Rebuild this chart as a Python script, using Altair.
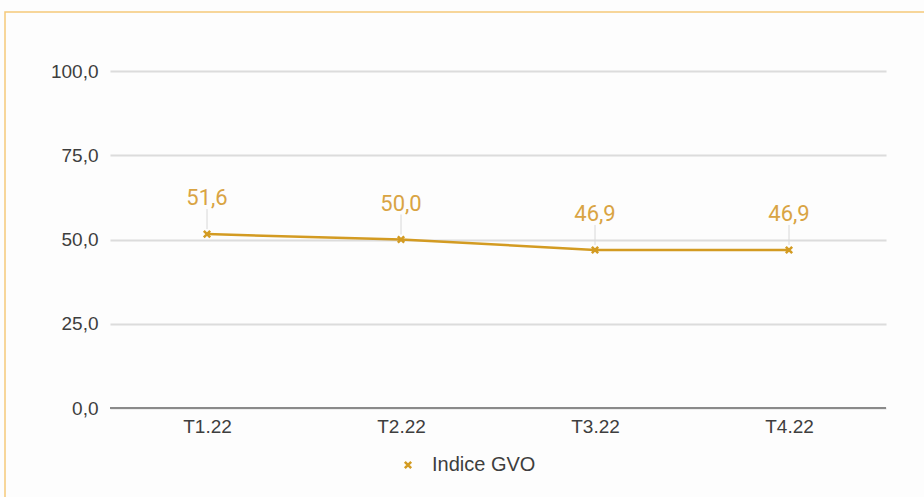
import altair as alt
import pandas as pd

categories = ["T1.22", "T2.22", "T3.22", "T4.22"]
values = [51.6, 50.0, 46.9, 46.9]
labels = ["51,6", "50,0", "46,9", "46,9"]
series = "Indice GVO"

df = pd.DataFrame({"cat": categories, "val": values, "lab": labels, "serie": [series] * 4})

GOLD = "#D39B22"
LABEL_GOLD = "#D9A443"
XPATH = "M-1,-1L1,1M1,-1L-1,1"

x = alt.X("cat:N", sort=categories, title=None,
          scale=alt.Scale(type="point", padding=0.5),
          axis=alt.Axis(labelAngle=0, ticks=False, domain=False, labelFont="Liberation Sans",
                        labelFontSize=19, labelColor="#3E3E3E", labelPadding=9))
y = alt.Y("val:Q", title=None,
          scale=alt.Scale(domain=[0, 100]),
          axis=alt.Axis(values=[0, 25, 50, 75, 100], labelExpr="replace(format(datum.value, '.1f'), '.', ',')",
                        ticks=False, domain=False, grid=True, gridColor="#DCDCDC", gridWidth=2,
                        labelFont="Liberation Sans", labelFontSize=19, labelColor="#3E3E3E",
                        labelPadding=12))

base = alt.Chart(df)

border = base.mark_rect(fill=None, stroke="#F5C97A", strokeWidth=1.5, clip=False).encode(
    x=alt.value(-105), x2=alt.value(900), y=alt.value(-59), y2=alt.value(500)
).transform_filter("datum.cat == 'T1.22'")

zero = base.mark_rule(color="#8A8A8A", strokeWidth=2).encode(
    x=alt.value(0), x2=alt.value(776), y=alt.datum(0)
).transform_filter("datum.cat == 'T1.22'")

line = base.mark_line(color=GOLD, strokeWidth=2.5).encode(x=x, y=y)

points = base.mark_point(shape=XPATH, size=40, filled=False, strokeWidth=2.5, opacity=1).encode(
    x=x, y=y,
    color=alt.Color("serie:N", scale=alt.Scale(range=[GOLD]),
                    legend=alt.Legend(title=None, orient="none", legendX=288, legendY=384,
                                      symbolType=XPATH, symbolSize=40, symbolStrokeWidth=2.5,
                                      symbolFillColor="transparent",
                                      labelFont="Liberation Sans", labelFontSize=20,
                                      labelColor="#3E3E3E", labelOffset=14))
)

leaders = base.mark_rule(color="#D8D8D8", strokeWidth=1, yOffset=-25, y2Offset=-5).encode(
    x=x, y=y, y2="val:Q"
)

texts = base.mark_text(color=LABEL_GOLD, fontSize=22, font="Roboto", dy=-36, baseline="middle").encode(
    x=x, y=y, text="lab:N"
)

chart = alt.layer(border, zero, line, leaders, points, texts).properties(
    width=776, height=337,
    autosize=alt.AutoSizeParams(type="none"),
    padding={"left": 110, "top": 71, "right": 38, "bottom": 89},
    background="#FDFDFD",
).configure_view(stroke=None)

chart.save("out.html", embed_options={"renderer": "svg", "actions": False})
